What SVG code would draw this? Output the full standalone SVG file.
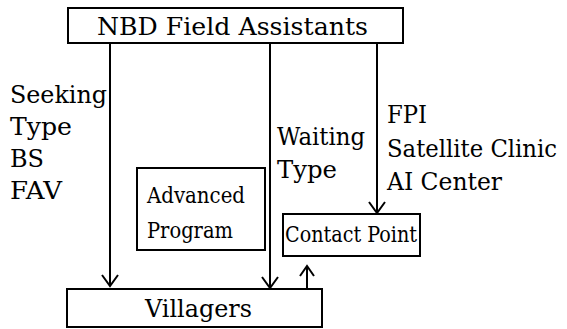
<svg xmlns="http://www.w3.org/2000/svg" width="567" height="329" viewBox="0 0 567 329">
<style>
.box{fill:#fff;stroke:#000;stroke-width:2}
.ln{fill:none;stroke:#000;stroke-width:2}
.ah{fill:none;stroke:#000;stroke-width:2;stroke-linejoin:miter}
.t{font-family:'DejaVu Serif','Liberation Serif',serif;fill:#000;font-size:24px}
.c{font-size:23px}
</style>
<rect width="567" height="329" fill="#fff"/>
<g id="connectors">
<line class="ln" x1="110" y1="43" x2="110" y2="285"/>
<polyline class="ah" points="102,275 110,286 118,275"/>
<line class="ln" x1="270" y1="43" x2="270" y2="287"/>
<polyline class="ah" points="262,277 270,288 278,277"/>
<line class="ln" x1="377" y1="43" x2="377" y2="212"/>
<polyline class="ah" points="369,202 377,213 385,202"/>
<line class="ln" x1="307" y1="289" x2="307" y2="267"/>
<polyline class="ah" points="300,276 307,266 314,276"/>
</g>
<g id="labels" class="t">
<text x="10" y="103" textLength="97" lengthAdjust="spacingAndGlyphs">Seeking</text>
<text x="10" y="135" textLength="62" lengthAdjust="spacingAndGlyphs">Type</text>
<text x="10" y="167" textLength="34" lengthAdjust="spacingAndGlyphs">BS</text>
<text x="10" y="199" textLength="52" lengthAdjust="spacingAndGlyphs">FAV</text>
<text x="277" y="145" textLength="88" lengthAdjust="spacingAndGlyphs">Waiting</text>
<text x="277" y="178" textLength="60" lengthAdjust="spacingAndGlyphs">Type</text>
<text x="387" y="123" textLength="40" lengthAdjust="spacingAndGlyphs">FPI</text>
<text x="387" y="157" textLength="170" lengthAdjust="spacingAndGlyphs">Satellite Clinic</text>
<text x="387" y="190" textLength="115" lengthAdjust="spacingAndGlyphs">AI Center</text>
</g>
<g id="nbd" class="t">
<rect class="box" x="68" y="8" width="335" height="35"/>
<text x="97" y="35" textLength="271" lengthAdjust="spacingAndGlyphs">NBD Field Assistants</text>
</g>
<g id="advanced" class="t">
<rect class="box" x="137" y="168" width="128" height="82"/>
<text class="c" x="147" y="203" textLength="98" lengthAdjust="spacingAndGlyphs">Advanced</text>
<text class="c" x="147" y="238" textLength="86" lengthAdjust="spacingAndGlyphs">Program</text>
</g>
<g id="contact" class="t">
<rect class="box" x="283" y="214" width="137" height="42"/>
<text class="c" x="285" y="242" textLength="132" lengthAdjust="spacingAndGlyphs">Contact Point</text>
</g>
<g id="villagers" class="t">
<rect class="box" x="67" y="289" width="255" height="38"/>
<text x="145" y="317" textLength="107" lengthAdjust="spacingAndGlyphs">Villagers</text>
</g>
</svg>
